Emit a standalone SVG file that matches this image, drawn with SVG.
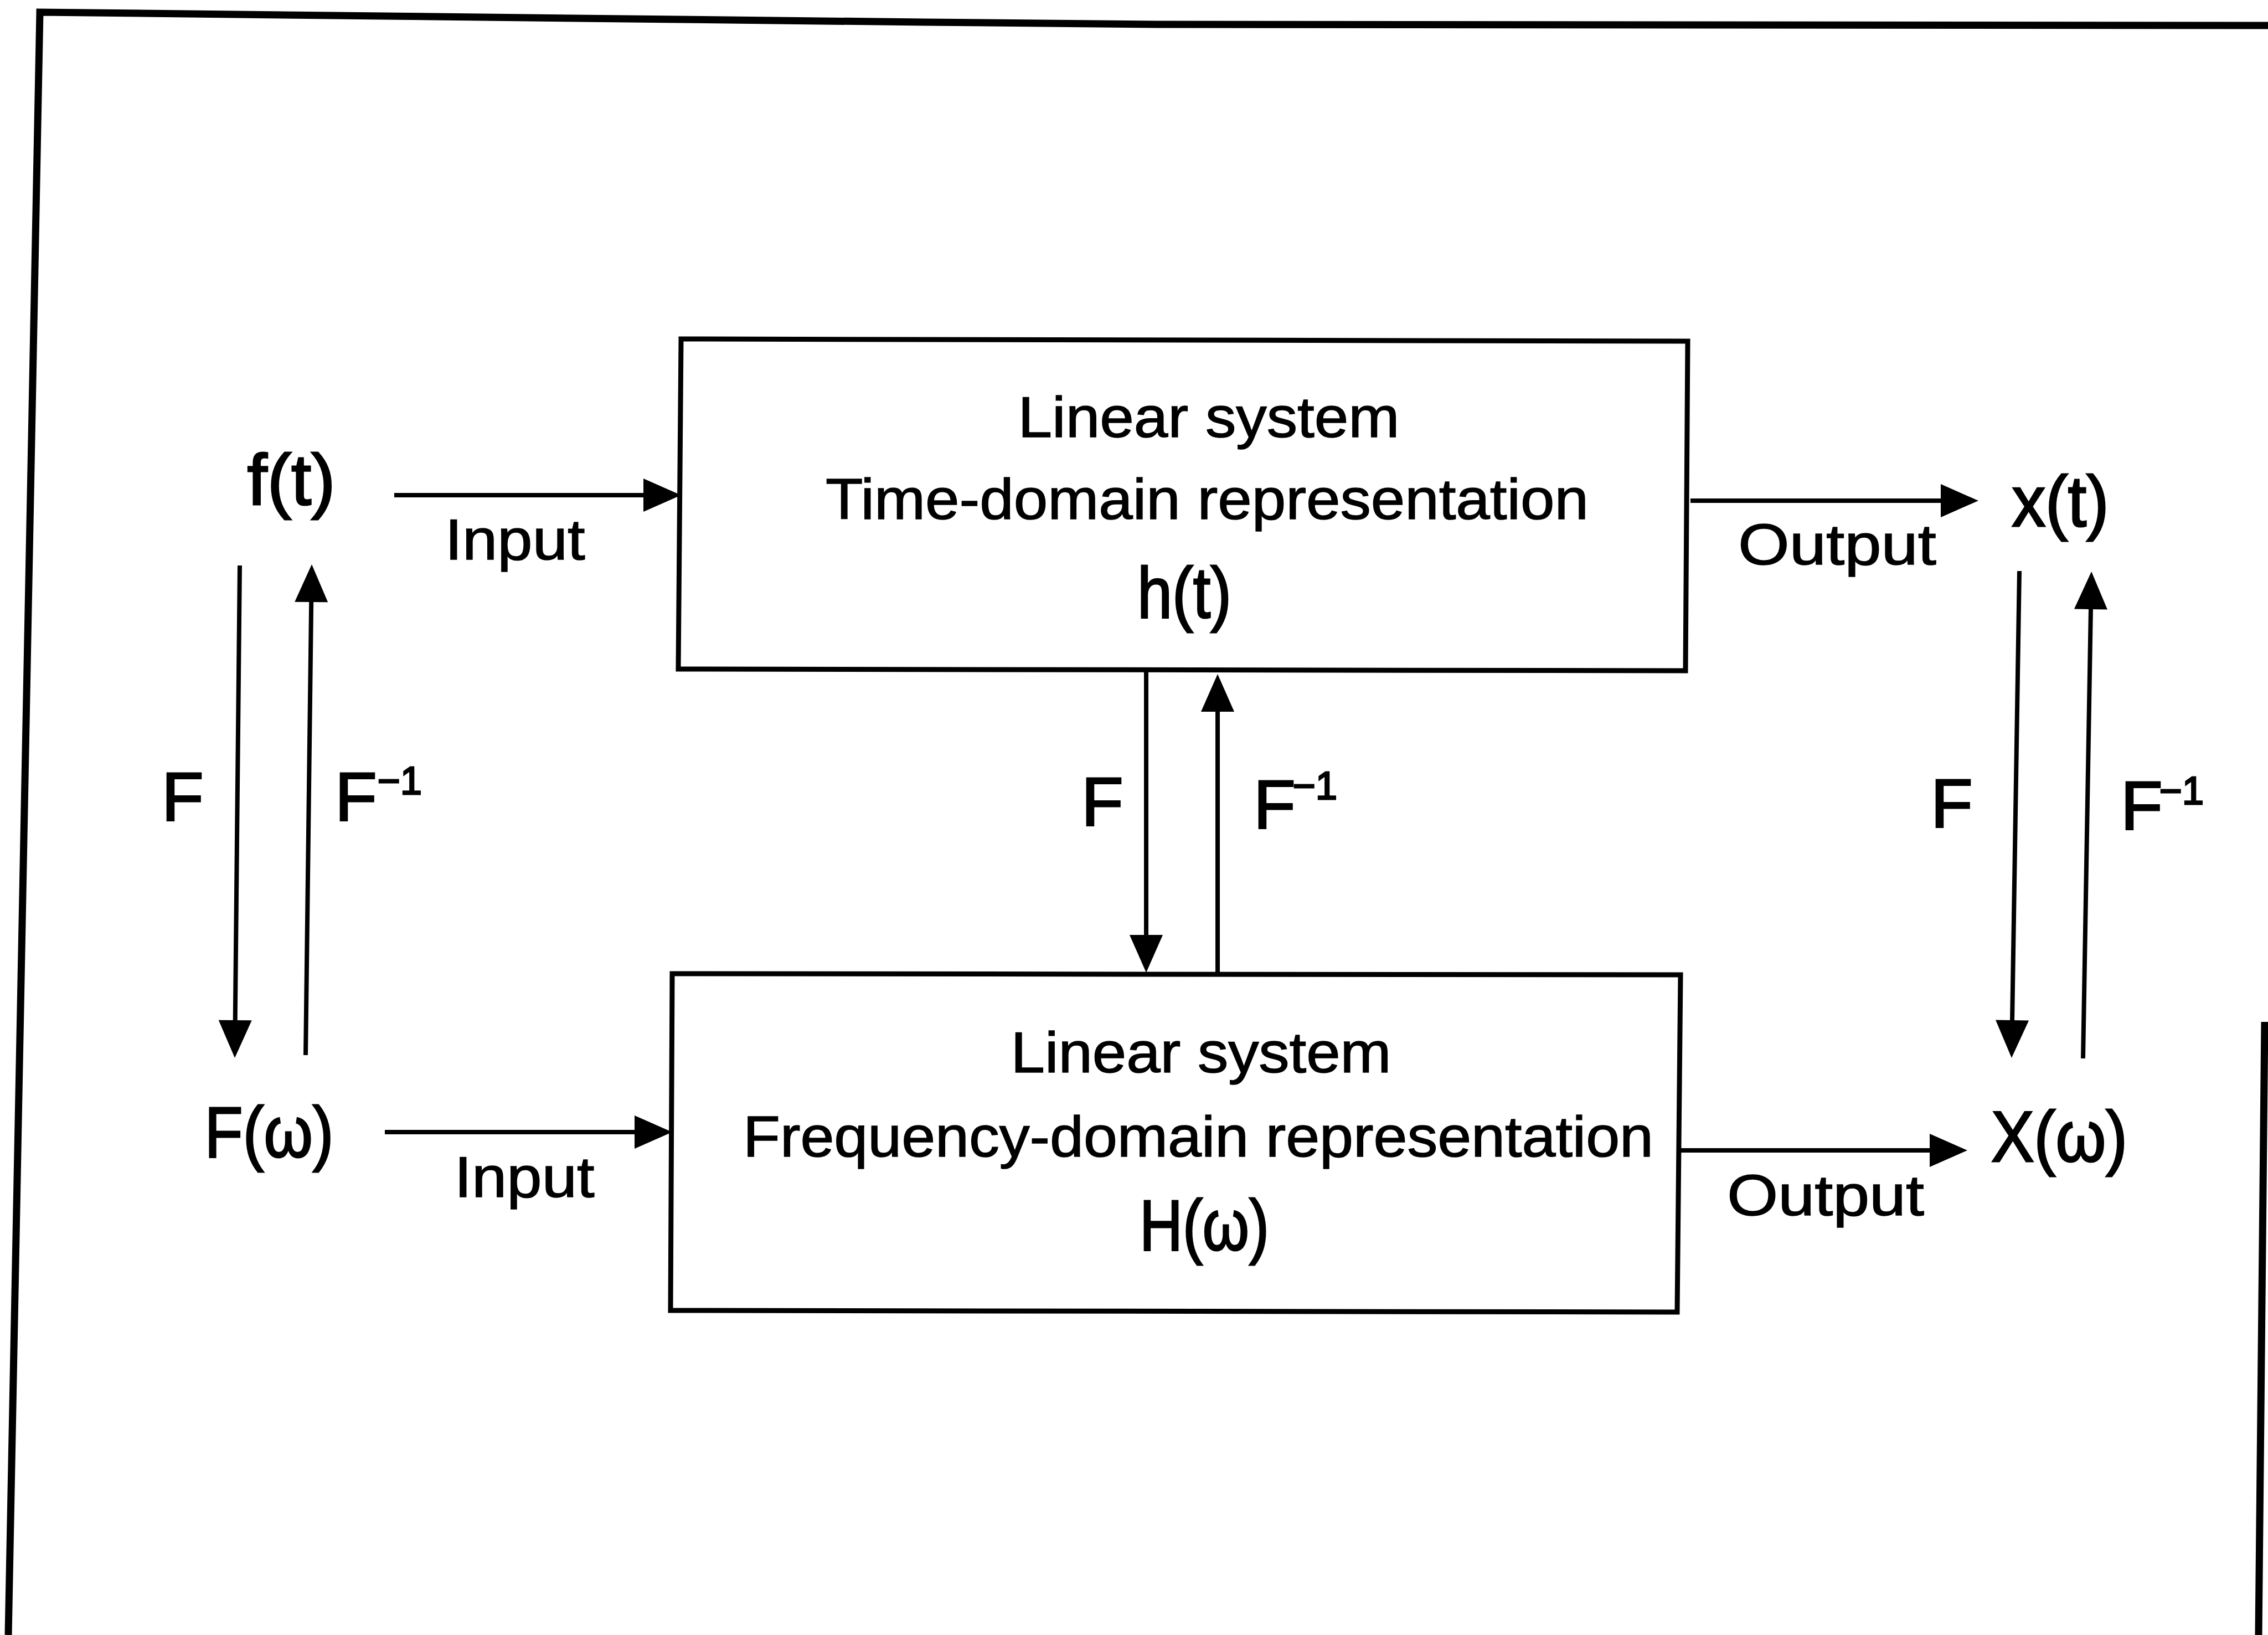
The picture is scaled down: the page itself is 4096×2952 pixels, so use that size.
<svg xmlns="http://www.w3.org/2000/svg" width="4096" height="2952" viewBox="0 0 4096 2952">
<style>
.frame{fill:none;stroke:#000;stroke-width:13;stroke-linejoin:miter}
.box{fill:none;stroke:#000;stroke-width:9;stroke-linejoin:miter}
.conn line{stroke:#000;stroke-width:8;marker-end:url(#ah)}
.hw{font-family:"Liberation Sans","DejaVu Sans",sans-serif;font-size:104px;fill:#000;stroke:#000;stroke-width:1.5;text-anchor:middle}
.m{font-family:"Liberation Sans","DejaVu Sans",sans-serif;font-size:130px;fill:#000;stroke:#000;stroke-width:3;text-anchor:middle}
.f{font-family:"Liberation Sans","DejaVu Sans",sans-serif;font-size:124px;fill:#000;stroke:#000;stroke-width:3}
.sup{font-size:70px}
</style>
<defs>
<marker id="ah" markerUnits="userSpaceOnUse" markerWidth="70" markerHeight="62" refX="2" refY="31" orient="auto" overflow="visible">
<path d="M0,1 L68,31 L0,61 z" fill="#000"/>
</marker>
</defs>
<rect x="0" y="0" width="4096" height="2952" fill="#fff"/>
<g id="frame">
<polyline class="frame" points="15,2952 72,22 1670,40 2088,44 4096,46"/>
<line class="frame" x1="4090" y1="1845" x2="4079" y2="2952"/>
</g>
<g id="time-system">
<polygon class="box" points="1230,612 3048,616 3044,1211 1225,1208"/>
<text class="hw" x="2183" y="789" textLength="689" lengthAdjust="spacingAndGlyphs">Linear system</text>
<text class="hw" x="2180" y="937" textLength="1378" lengthAdjust="spacingAndGlyphs">Time-domain representation</text>
<text class="m" x="2139" y="1115" textLength="170" lengthAdjust="spacingAndGlyphs">h(t)</text>
</g>
<g id="freq-system">
<polygon class="box" points="1214,1758 3035,1760 3029,2369 1211,2366"/>
<text class="hw" x="2169" y="1936" textLength="687" lengthAdjust="spacingAndGlyphs">Linear system</text>
<text class="hw" x="2164" y="2088" textLength="1644" lengthAdjust="spacingAndGlyphs">Frequency-domain representation</text>
<text class="m" x="2175" y="2257" textLength="234" lengthAdjust="spacingAndGlyphs">H(ω)</text>
</g>
<g id="ft"><text class="m" x="526" y="911" textLength="159" lengthAdjust="spacingAndGlyphs">f(t)</text></g>
<g id="Fw"><text class="m" x="486" y="2089" textLength="233" lengthAdjust="spacingAndGlyphs">F(ω)</text></g>
<g id="xt"><text class="m" x="3721" y="950" textLength="175" lengthAdjust="spacingAndGlyphs">x(t)</text></g>
<g id="Xw"><text class="m" x="3719" y="2097" textLength="246" lengthAdjust="spacingAndGlyphs">X(ω)</text></g>
<g id="connectors" class="conn">
<line x1="712" y1="894" x2="1164" y2="894"/>
<line x1="3053" y1="904" x2="3507" y2="904"/>
<line x1="695" y1="2044" x2="1148" y2="2044"/>
<line x1="3031" y1="2077" x2="3487" y2="2077"/>
<line x1="433" y1="1021" x2="424.7" y2="1844"/>
<line x1="552" y1="1905" x2="562.2" y2="1085"/>
<line x1="2070" y1="1211" x2="2070" y2="1690"/>
<line x1="2199" y1="1758" x2="2199" y2="1283"/>
<line x1="3647" y1="1031" x2="3634" y2="1844"/>
<line x1="3762" y1="1911" x2="3776" y2="1098"/>
</g>
<g id="labels">
<text class="hw" x="930" y="1010" textLength="253" lengthAdjust="spacingAndGlyphs">Input</text>
<text class="hw" x="947" y="2161" textLength="253" lengthAdjust="spacingAndGlyphs">Input</text>
<text class="hw" x="3318" y="1019" textLength="358" lengthAdjust="spacingAndGlyphs">Output</text>
<text class="hw" x="3297" y="2194" textLength="356" lengthAdjust="spacingAndGlyphs">Output</text>
<text class="f" x="292" y="1482">F</text>
<text class="f" x="605" y="1482">F<tspan class="sup" x="682" y="1434">−1</tspan></text>
<text class="f" x="1953" y="1491">F</text>
<text class="f" x="2264" y="1496">F<tspan class="sup" x="2335" y="1443">−1</tspan></text>
<text class="f" x="3487" y="1494">F</text>
<text class="f" x="3830" y="1498">F<tspan class="sup" x="3900" y="1452">−1</tspan></text>
</g>
</svg>
